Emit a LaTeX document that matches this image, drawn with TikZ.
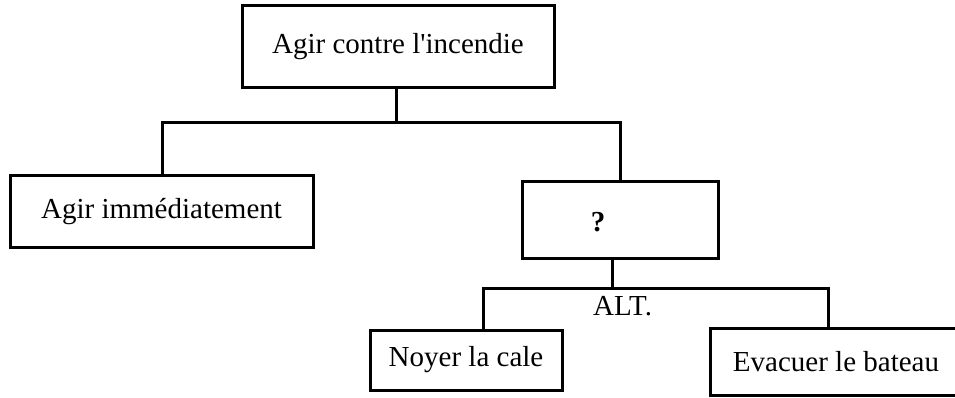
\documentclass[tikz,border=0pt]{standalone}
\usepackage{fontspec}
\setmainfont{Liberation Serif}
\begin{document}
\begin{tikzpicture}[x=1pt,y=-1pt,
  box/.style={draw, line width=3pt, inner sep=0pt, font=\fontsize{29}{34}\selectfont},
  wire/.style={line width=3pt},
  lbl/.style={inner sep=0pt, font=\fontsize{29}{34}\selectfont}]
\useasboundingbox (0,0) rectangle (955,398);
\fill[white] (0,0) rectangle (955,398);
% boxes
\node[box, minimum width=312pt, minimum height=82pt] (top) at (398,47) {Agir contre l\textquotesingle incendie};
\node[box, minimum width=303pt, minimum height=71pt] (left) at (161.5,211.5) {Agir immédiatement};
\node[box, minimum width=196pt, minimum height=76pt] (q) at (620,220) {};
\node[lbl, font=\fontsize{29}{34}\selectfont\bfseries] (qm) at (598,222) {?};
\node[box, minimum width=192pt, minimum height=60pt] (noyer) at (466,360) {Noyer la cale};
\node[box, minimum width=252pt, minimum height=67pt] (evac) at (836,361.5) {Evacuer le bateau};
\node[lbl, anchor=base west] (alt) at (593,315) {ALT.};
% junction points
\coordinate (j1) at (396,123);
\coordinate (lt) at (162,176);
\coordinate (qt) at (620,182);
\coordinate (qb) at (612,258);
\coordinate (j2) at (612,288);
\coordinate (nt) at (483,330);
\coordinate (et) at (828,328);
% connectors
\draw[wire] (top.south -| j1) -- (j1);
\draw[wire] (lt) |- (j1) -| (qt);
\draw[wire] (qb) -- (j2);
\draw[wire] (nt) |- (j2) -| (et);
\end{tikzpicture}
\end{document}
